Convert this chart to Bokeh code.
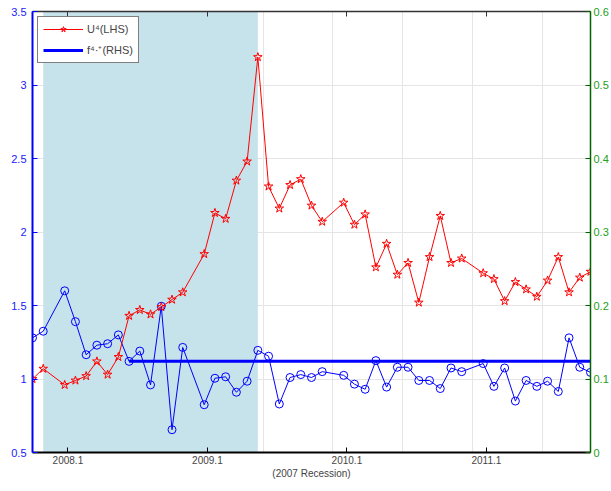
from bokeh.plotting import figure
from bokeh.models import (ColumnDataSource, Range1d, LinearAxis, FixedTicker,
                          CustomJSTickFormatter, BoxAnnotation, Legend, LegendItem)
from bokeh.embed import file_html
from bokeh.resources import INLINE

# monthly periods, Nov 2007 .. Nov 2011
periods = (["2007.11", "2007.12"]
           + [f"{y}.{m}" for y in (2008, 2009, 2010) for m in range(1, 13)]
           + [f"2011.{m}" for m in range(1, 12)])

# U^4 (left axis)
u4 = [1.00, 1.07,
      0.96, 0.99, 1.02, 1.12, 1.03, 1.15, 1.43, 1.47, 1.44, 1.49, 1.54, 1.59,
      1.85, 2.13, 2.09, 2.35, 2.48, 3.19, 2.31, 2.16, 2.32, 2.36, 2.18, 2.07,
      2.20, 2.05, 2.12, 1.76, 1.92, 1.71, 1.79, 1.52, 1.83, 2.11, 1.79, 1.82,
      1.72, 1.68, 1.53, 1.66, 1.61, 1.56, 1.67, 1.83, 1.59, 1.69, 1.73]

# blue circle series (right axis)
rhs_series = [0.156, 0.165,
              0.220, 0.178, 0.133, 0.146, 0.148, 0.160, 0.124, 0.138, 0.092, 0.199, 0.031, 0.143,
              0.065, 0.101, 0.103, 0.082, 0.097, 0.139, 0.131, 0.066, 0.102, 0.106, 0.102, 0.110,
              0.105, 0.093, 0.086, 0.125, 0.089, 0.116, 0.116, 0.098, 0.098, 0.087, 0.115, 0.110,
              0.121, 0.090, 0.115, 0.070, 0.098, 0.090, 0.097, 0.083, 0.156, 0.116, 0.109]

# f^{4,+} level (right axis), from Jul 2008 on
f4_level = 0.124
f4_start = "2008.7"

recession = ("2007.12", "2009.6")

x_ticks = [2008.1, 2009.1, 2010.1, 2011.1]
lhs_ticks = [0.5, 1, 1.5, 2, 2.5, 3, 3.5]
rhs_ticks = [0, 0.1, 0.2, 0.3, 0.4, 0.5, 0.6]


def pos(period):
    y, m = period.split(".")
    return int(y) + int(m) / 13


xs = [pos(s) for s in periods]
fx = [pos(s) for s in periods if pos(s) >= pos(f4_start)]

FONT = "Liberation Sans"
fmt = CustomJSTickFormatter(code="return tick.toString();")

p = figure(width=611, height=491, output_backend="svg", toolbar_location=None,
           x_range=Range1d(xs[0], xs[-1]), y_range=Range1d(0.5, 3.5),
           x_axis_location=None, y_axis_location=None,
           min_border_left=32, min_border_right=20, min_border_top=11, min_border_bottom=39)
p.extra_y_ranges = {"rhs": Range1d(0, 0.6)}
p.outline_line_color = None
p.background_fill_color = "white"

p.add_layout(BoxAnnotation(left=pos(recession[0]), right=pos(recession[1]),
                           fill_color="#c6e2ea", fill_alpha=1, line_color=None,
                           level="underlay"))

src = ColumnDataSource(dict(x=xs, u4=u4, rhs=rhs_series))

p.line("x", "rhs", source=src, y_range_name="rhs", color="blue", line_width=1)
p.scatter("x", "rhs", source=src, y_range_name="rhs", marker="circle", size=8,
          line_color="blue", fill_color=None)
r_f = p.line(fx, [f4_level] * len(fx), y_range_name="rhs", color="blue", line_width=3)
r_u = p.line("x", "u4", source=src, color="red", line_width=1)
r_us = p.scatter("x", "u4", source=src, marker="star", size=9, line_color="red", fill_color=None)

# axes
xaxis = LinearAxis(ticker=FixedTicker(ticks=x_ticks), formatter=fmt,
                   axis_label="(2007 Recession)")
xaxis.axis_line_color = "black"
xaxis.axis_line_width = 2
xaxis.major_tick_in = 5
xaxis.major_tick_out = 0
xaxis.major_tick_line_color = "black"
xaxis.minor_tick_line_color = None
xaxis.major_label_standoff = 3
xaxis.major_label_text_font = FONT
xaxis.major_label_text_font_size = "10px"
xaxis.axis_label_text_font = FONT
xaxis.axis_label_text_font_size = "10px"
xaxis.axis_label_text_font_style = "normal"
xaxis.axis_label_standoff = 1
p.add_layout(xaxis, "below")

# box top with ticks, no labels
top = LinearAxis(ticker=FixedTicker(ticks=x_ticks), formatter=fmt)
top.axis_line_color = "#333333"
top.axis_line_width = 1.5
top.major_tick_in = 5
top.major_tick_out = 0
top.major_tick_line_color = "#333333"
top.minor_tick_line_color = None
top.major_label_standoff = 0
top.major_label_text_font_size = "1px"
top.major_label_text_color = None
p.add_layout(top, "above")

lax = LinearAxis(ticker=FixedTicker(ticks=lhs_ticks), formatter=fmt)
lax.axis_line_color = "blue"
lax.axis_line_width = 2
lax.major_tick_line_color = "blue"
lax.major_tick_in = 5
lax.major_tick_out = 0
lax.minor_tick_line_color = None
lax.major_label_standoff = 6
lax.major_label_text_color = "#2020ff"
lax.major_label_text_font = FONT
lax.major_label_text_font_size = "11px"
p.add_layout(lax, "left")

rax = LinearAxis(y_range_name="rhs", ticker=FixedTicker(ticks=rhs_ticks), formatter=fmt)
rax.axis_line_color = "#006400"
rax.axis_line_width = 1.5
rax.major_tick_line_color = "#006400"
rax.major_tick_in = 5
rax.major_tick_out = 0
rax.minor_tick_line_color = None
rax.major_label_standoff = 3
rax.major_label_text_color = "#22a022"
rax.major_label_text_font = FONT
rax.major_label_text_font_size = "11px"
p.add_layout(rax, "right")

legend = Legend(items=[LegendItem(label="U⁴(LHS)", renderers=[r_u, r_us]),
                       LegendItem(label="f⁴·⁺(RHS)", renderers=[r_f])],
                location="top_left")
legend.margin = 5
legend.padding = 5
legend.spacing = 6
legend.glyph_width = 40
legend.glyph_height = 14
legend.label_height = 14
legend.label_standoff = 4
legend.label_text_font = FONT
legend.label_text_font_size = "11px"
legend.border_line_color = "black"
legend.border_line_width = 1
legend.background_fill_alpha = 1
p.add_layout(legend)

open("out.html", "w").write(file_html(p, INLINE))
